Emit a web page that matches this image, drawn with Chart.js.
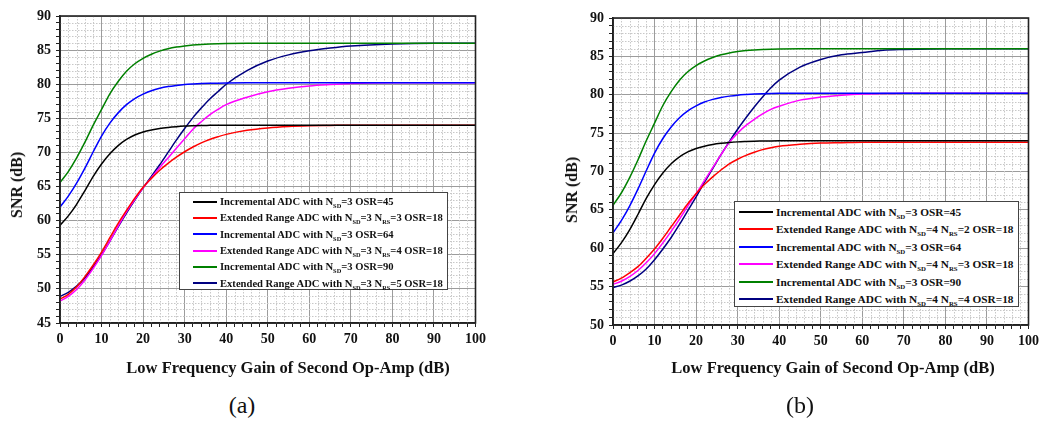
<!DOCTYPE html>
<html>
<head>
<meta charset="utf-8">
<script src="https://cdn.jsdelivr.net/npm/chart.js@4.4.1/dist/chart.umd.min.js"></script>
<style>
  body { margin: 0; background: #fff; width: 1043px; height: 424px; position: relative; overflow: hidden;
         font-family: "Liberation Serif", "Times New Roman", serif; color: #111; }
  canvas { position: absolute; }
  .legend { position: absolute; box-sizing: border-box; background: #fff; border: 1px solid #444; font-weight: bold; }
  .legend .row { display: flex; align-items: center; white-space: nowrap; }
  .legend .swatch { display: inline-block; height: 2px; flex: none; }
  .legend sub { font-size: 0.6em; vertical-align: -0.4em; line-height: 0; }
  .caption { position: absolute; font-size: 24px; transform: translate(-50%, -50%); white-space: nowrap; }
  .xtitle { position: absolute; font-size: 16.5px; font-weight: bold; transform: translate(-50%, -50%); white-space: nowrap; }
  .ytitle { position: absolute; font-size: 16px; font-weight: bold; transform: translate(-50%, -50%) rotate(-90deg); white-space: nowrap; }
</style>
</head>
<body>
<canvas id="chartA" width="490" height="390" style="left:0;top:0"></canvas>
<canvas id="chartB" width="490" height="390" style="left:553px;top:2px"></canvas>
<div id="legendA" class="legend" style="left:179px;top:192px;width:269px;height:98px;font-size:10.6px;padding-top:0.5px"></div>
<div id="legendB" class="legend" style="left:734px;top:201px;width:285px;height:106px;font-size:11.3px;padding-top:1px"></div>
<div class="ytitle" style="left:17px;top:185px">SNR (dB)</div>
<div class="ytitle" style="left:572px;top:190px">SNR (dB)</div>
<div class="xtitle" style="left:288px;top:368px">Low Frequency Gain of Second Op-Amp (dB)</div>
<div class="xtitle" style="left:833px;top:368px">Low Frequency Gain of Second Op-Amp (dB)</div>
<div class="caption" style="left:242px;top:405px">(a)</div>
<div class="caption" style="left:800px;top:405px">(b)</div>
<script>
// gain of the second op-amp (dB)
const gainDb = [0, 2, 4, 6, 8, 10, 12, 14, 16, 18, 20, 22, 24, 26, 28, 30, 32, 34, 36, 38, 40, 45, 50, 55, 60, 65, 70, 80, 90, 100];

// incremental ADC, N_SD=3 (same in both panels)
const snrIncOsr45 = [59.3, 60.7, 62.4, 64.4, 66.5, 68.3, 69.8, 71.0, 71.9, 72.55, 73.0, 73.3, 73.52, 73.67, 73.78, 73.86, 73.91, 73.95, 73.97, 73.99, 74.0, 74.0, 74.0, 74.0, 74.0, 74.0, 74.0, 74.0, 74.0, 74.0];
const snrIncOsr64 = [62.0, 63.6, 65.5, 67.7, 70.1, 72.4, 74.3, 75.8, 77.0, 77.9, 78.55, 79.05, 79.4, 79.65, 79.82, 79.95, 80.03, 80.09, 80.13, 80.16, 80.18, 80.2, 80.2, 80.2, 80.2, 80.2, 80.2, 80.2, 80.2, 80.2];
const snrIncOsr90 = [65.6, 67.2, 69.2, 71.5, 74.0, 76.3, 78.6, 80.4, 81.9, 83.0, 83.8, 84.4, 84.85, 85.2, 85.45, 85.62, 85.75, 85.84, 85.9, 85.94, 85.97, 86.0, 86.0, 86.0, 86.0, 86.0, 86.0, 86.0, 86.0, 86.0];

// extended range ADC, N_SD=3, OSR=18
const snrExtA_Nrs3 = [48.5, 49.2, 50.3, 51.8, 53.5, 55.4, 57.5, 59.6, 61.5, 63.3, 64.9, 66.2, 67.4, 68.4, 69.3, 70.1, 70.8, 71.4, 71.9, 72.3, 72.65, 73.25, 73.6, 73.8, 73.9, 73.95, 74.0, 74.0, 74.0, 74.0];
const snrExtA_Nrs4 = [48.2, 48.9, 49.9, 51.3, 53.0, 54.9, 57.0, 59.2, 61.3, 63.1, 64.8, 66.3, 67.8, 69.2, 70.6, 72.0, 73.4, 74.5, 75.5, 76.3, 77.0, 78.1, 78.9, 79.4, 79.75, 79.95, 80.1, 80.2, 80.2, 80.2];
const snrExtA_Nrs5 = [48.9, 49.5, 50.4, 51.6, 53.2, 55.0, 57.0, 59.1, 61.1, 63.0, 64.8, 66.5, 68.2, 70.0, 71.8, 73.5, 75.1, 76.5, 77.8, 78.9, 80.0, 82.0, 83.4, 84.3, 84.9, 85.3, 85.6, 85.9, 86.0, 86.0];

// extended range ADC, N_SD=4, OSR=18
const snrExtB_Nrs2 = [55.6, 56.1, 56.8, 57.6, 58.7, 59.9, 61.3, 62.8, 64.3, 65.8, 67.1, 68.3, 69.3, 70.2, 71.0, 71.6, 72.1, 72.5, 72.85, 73.1, 73.3, 73.55, 73.7, 73.75, 73.8, 73.8, 73.8, 73.8, 73.8, 73.8];
const snrExtB_Nrs3 = [55.3, 55.7, 56.3, 57.1, 58.1, 59.3, 60.7, 62.2, 63.8, 65.5, 67.1, 68.8, 70.5, 72.2, 73.8, 75.0, 76.0, 76.8, 77.5, 78.1, 78.5, 79.3, 79.7, 79.95, 80.1, 80.15, 80.2, 80.2, 80.2, 80.2];
const snrExtB_Nrs4 = [54.9, 55.2, 55.7, 56.4, 57.3, 58.5, 59.9, 61.4, 63.1, 64.9, 66.7, 68.6, 70.4, 72.2, 73.9, 75.5, 77.0, 78.4, 79.7, 80.9, 81.9, 83.6, 84.6, 85.2, 85.5, 85.8, 85.9, 86.0, 86.0, 86.0];

const labelsA = [
  'Incremental ADC with N_SD=3 OSR=45',
  'Extended Range ADC with N_SD=3 N_RS=3 OSR=18',
  'Incremental ADC with N_SD=3 OSR=64',
  'Extended Range ADC with N_SD=3 N_RS=4 OSR=18',
  'Incremental ADC with N_SD=3 OSR=90',
  'Extended Range ADC with N_SD=3 N_RS=5 OSR=18'
];
const labelsB = [
  'Incremental ADC with N_SD=3 OSR=45',
  'Extended Range ADC with N_SD=4 N_RS=2 OSR=18',
  'Incremental ADC with N_SD=3 OSR=64',
  'Extended Range ADC with N_SD=4 N_RS=3 OSR=18',
  'Incremental ADC with N_SD=3 OSR=90',
  'Extended Range ADC with N_SD=4 N_RS=4 OSR=18'
];
const lineColors = ['#000000', '#ff0000', '#0000ff', '#ff00ff', '#008000', '#000080'];

const rangeA = [45, 90];
const rangeB = [50, 90];

const axisFont = { family: '"Liberation Serif", "Times New Roman", serif', weight: 'bold' };

// dotted minor grid underneath the curves, solid frame on top
const plotFrame = {
  id: 'plotFrame',
  beforeDatasetsDraw(chart) {
    const { ctx, chartArea: a, scales: { x, y } } = chart;
    ctx.save();
    ctx.strokeStyle = '#c8c8c8';
    ctx.lineWidth = 1;
    ctx.setLineDash([1.5, 1.5]);
    ctx.beginPath();
    x.ticks.forEach(t => {
      if (t.value % 10 === 0) return;
      const px = Math.round(x.getPixelForValue(t.value)) + 0.5;
      ctx.moveTo(px, a.top);
      ctx.lineTo(px, a.bottom);
    });
    y.ticks.forEach(t => {
      if (t.value % 5 === 0) return;
      const py = Math.round(y.getPixelForValue(t.value)) + 0.5;
      ctx.moveTo(a.left, py);
      ctx.lineTo(a.right, py);
    });
    ctx.stroke();
    ctx.restore();
  },
  afterDatasetsDraw(chart) {
    const { ctx, chartArea: a } = chart;
    ctx.save();
    ctx.strokeStyle = '#222';
    ctx.lineWidth = 1.6;
    ctx.strokeRect(a.left, a.top, a.right - a.left, a.bottom - a.top);
    ctx.restore();
  }
};

function buildLegend(el, labels, swatchWidth, swatchLeft, rowHeight) {
  el.innerHTML = labels.map((txt, i) => {
    const html = txt.replace(/N_(SD|RS)/g, 'N<sub>$1</sub>');
    return '<div class="row" style="height:' + rowHeight + 'px">' +
      '<span class="swatch" style="width:' + swatchWidth + 'px;margin-left:' + swatchLeft + 'px;margin-right:3px;background:' + lineColors[i] + '"></span>' +
      '<span>' + html + '</span></div>';
  }).join('');
}

function makeChart(id, series, labels, range) {
  return new Chart(document.getElementById(id), {
    type: 'line',
    data: {
      labels: gainDb,
      datasets: series.map((s, i) => ({
        label: labels[i],
        data: s.map((v, j) => ({ x: gainDb[j], y: v })),
        borderColor: lineColors[i],
        borderWidth: 1.5,
        pointRadius: 0,
        cubicInterpolationMode: 'monotone',
        fill: false
      }))
    },
    options: {
      responsive: false,
      animation: false,
      devicePixelRatio: 1,
      layout: { padding: { top: 16, right: 13, left: 0, bottom: 0 } },
      plugins: { legend: { display: false }, tooltip: { enabled: false } },
      scales: {
        x: {
          type: 'linear',
          min: 0,
          max: 100,
          afterFit: s => { s.height = 67; },
          border: { color: '#222', width: 1.6 },
          grid: {
            color: c => (c.tick && c.tick.value % 10 === 0) ? '#9c9c9c' : 'rgba(0,0,0,0)',
            tickColor: '#222',
            tickLength: 4
          },
          ticks: {
            stepSize: 2,
            autoSkip: false,
            maxRotation: 0,
            padding: 4,
            color: '#111',
            font: { ...axisFont, size: 14 },
            callback: v => v % 10 === 0 ? v : ''
          }
        },
        y: {
          min: range[0],
          max: range[1],
          afterFit: s => { s.width = 60; },
          border: { color: '#222', width: 1.6 },
          grid: {
            color: c => (c.tick && c.tick.value % 5 === 0) ? '#9c9c9c' : 'rgba(0,0,0,0)',
            tickColor: '#222',
            tickLength: 4
          },
          ticks: {
            stepSize: 1,
            autoSkip: false,
            padding: 5,
            color: '#111',
            font: { ...axisFont, size: 14 },
            callback: v => v % 5 === 0 ? v : ''
          }
        }
      }
    },
    plugins: [plotFrame]
  });
}

makeChart('chartA', [snrIncOsr45, snrExtA_Nrs3, snrIncOsr64, snrExtA_Nrs4, snrIncOsr90, snrExtA_Nrs5], labelsA, rangeA);
makeChart('chartB', [snrIncOsr45, snrExtB_Nrs2, snrIncOsr64, snrExtB_Nrs3, snrIncOsr90, snrExtB_Nrs4], labelsB, rangeB);

buildLegend(document.getElementById('legendA'), labelsA, 24, 13, 16.3);
buildLegend(document.getElementById('legendB'), labelsB, 34, 4, 17.5);
</script>
</body>
</html>
